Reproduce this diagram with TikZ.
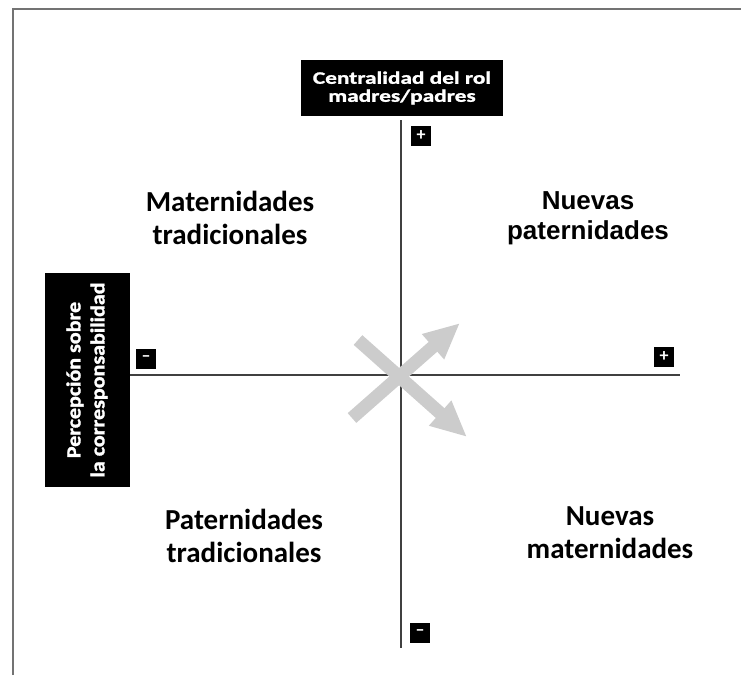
\documentclass[tikz,border=0pt]{standalone}
\usepackage{fontspec}
\setmainfont{Carlito}
\newfontfamily\arialfont{Liberation Sans}
\newfontfamily\toplabelfont[FakeStretch=1.33,FakeBold=1.5]{Carlito}
\newfontfamily\sidelabelfont[FakeStretch=1.1,FakeBold=1.5]{Carlito}
\usetikzlibrary{arrows.meta}

\tikzset{
  quadtext/.style={align=center, text=black, font=\bfseries\fontsize{29}{33}\selectfont},
  axisbox/.style={fill=black, text=white, align=center, inner sep=0pt},
  signbox/.style={fill=black, text=white, minimum size=20pt, inner sep=0pt,
    font=\bfseries\fontsize{18}{18}\selectfont},
  axisline/.style={draw=black!75, line width=2pt},
  bigarrow/.style={draw=black!20, line width=13pt,
    -{Triangle[length=36pt,width=31pt]}},
}

\begin{document}
\begin{tikzpicture}[x=1pt, y=-1pt]
  \useasboundingbox (0,0) rectangle (741,675);
  % frame, open at right and bottom
  \draw[draw=black!55, line width=2pt] (13,675) -- (13,9) -- (741,9);

  % axes
  \coordinate (vtop) at (401,120);
  \coordinate (vbot) at (401,648);
  \coordinate (hleft) at (130,375);
  \coordinate (hright) at (680,375);
  \draw[axisline] (vtop) -- (vbot);
  \draw[axisline] (hleft) -- (hright);

  % axis labels
  \node[axisbox, minimum width=202pt, minimum height=56pt,
    font=\toplabelfont\bfseries\fontsize{17.5}{18}\selectfont] (centralidad) at (402,88)
    {Centralidad del rol\\madres/padres};
  \node[axisbox, rotate=90, minimum width=214pt, minimum height=85pt,
    font=\sidelabelfont\bfseries\fontsize{20}{24}\selectfont] (percepcion) at (87,380)
    {Percepción sobre\\la corresponsabilidad};

  % signs
  \node[signbox] (vplus) at (421,136) {+};
  \node[signbox] (vminus) at (420,633) {--};
  \node[signbox] (hminus) at (146,359) {--};
  \node[signbox] (hplus) at (664,357) {+};

  % quadrants
  \node[quadtext] (mattrad) at (230,218) {Maternidades\\tradicionales};
  \node[quadtext, font=\arialfont\bfseries\fontsize{26}{30}\selectfont]
    (nuevpat) at (588,218) {Nuevas\\paternidades};
  \node[quadtext] (pattrad) at (244,536) {Paternidades\\tradicionales};
  \node[quadtext] (nuevmat) at (610,533) {Nuevas\\maternidades};

  % crossing arrows
  \coordinate (upstart) at (352,418);
  \coordinate (upend) at (460,323);
  \coordinate (downstart) at (358,340);
  \coordinate (downend) at (467,437);
  \draw[bigarrow] (upstart) -- (upend);
  \draw[bigarrow] (downstart) -- (downend);
\end{tikzpicture}
\end{document}
